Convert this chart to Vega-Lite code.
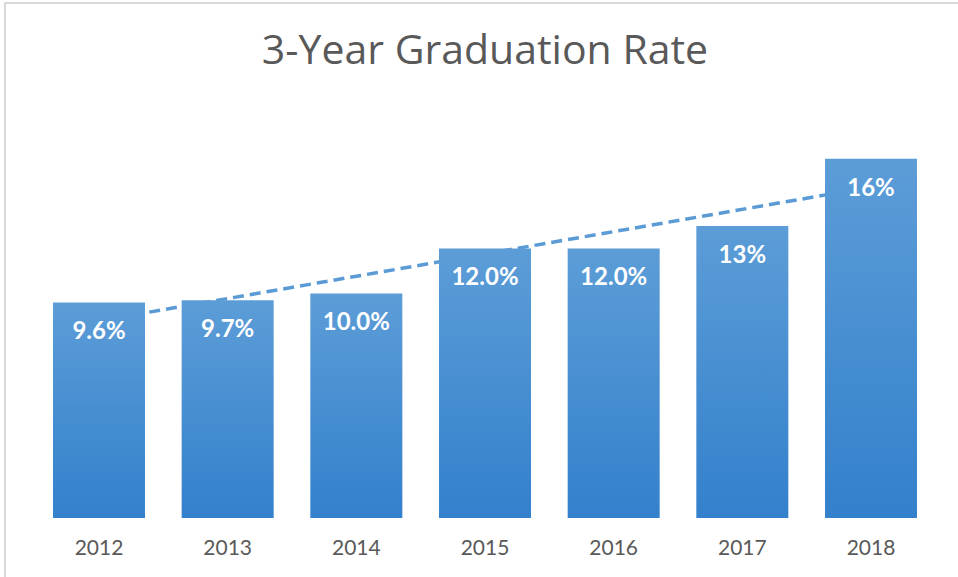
{
  "$schema": "https://vega.github.io/schema/vega-lite/v6.json",
  "width": 960,
  "height": 580,
  "autosize": {"type": "none"},
  "padding": {"left": 5, "top": 3, "right": -7, "bottom": -6},
  "background": "white",
  "config": {"view": {"stroke": "#d9d9d9", "strokeWidth": 2}},
  "title": {
    "text": "3-Year Graduation Rate",
    "font": "Open Sans",
    "fontSize": 41,
    "fontWeight": "normal",
    "color": "#595959",
    "anchor": "middle",
    "frame": "group",
    "baseline": "middle",
    "offset": -50,
    "dy": 40
  },
  "data": {
    "values": [
      {"year": 2012, "value": 9.6, "label": "9.6%"},
      {"year": 2013, "value": 9.7, "label": "9.7%"},
      {"year": 2014, "value": 10.0, "label": "10.0%"},
      {"year": 2015, "value": 12.0, "label": "12.0%"},
      {"year": 2016, "value": 12.0, "label": "12.0%"},
      {"year": 2017, "value": 13.0, "label": "13%"},
      {"year": 2018, "value": 16.0, "label": "16%"}
    ]
  },
  "resolve": {"scale": {"x": "independent"}},
  "layer": [
    {
      "transform": [{"regression": "value", "on": "year", "method": "linear"}],
      "mark": {"type": "line", "color": "#5b9bd5", "strokeWidth": 3.5, "strokeDash": [11, 6]},
      "encoding": {
        "x": {"field": "year", "type": "quantitative", "scale": {"domain": [2011.2694, 2018.7306], "nice": false, "zero": false}, "axis": null},
        "y": {"field": "value", "type": "quantitative", "scale": {"domain": [-2.894, 22.93], "nice": false, "zero": false}, "axis": null}
      }
    },
    {
      "encoding": {
        "x": {
          "field": "year",
          "type": "ordinal",
          "scale": {"paddingInner": 0.285, "paddingOuter": 0.373},
          "axis": {
            "orient": "bottom",
            "offset": -35,
            "domain": false,
            "ticks": false,
            "labelPadding": 0,
            "labelBaseline": "middle",
            "labelAngle": 0,
            "labelFont": "Lato",
            "labelFontSize": 21,
            "labelColor": "#595959",
            "title": null
          }
        },
        "y": {"field": "value", "type": "quantitative", "scale": {"domain": [-2.894, 22.93], "nice": false, "zero": false}, "axis": null}
      },
      "layer": [
        {
          "mark": {
            "type": "bar",
            "color": {
              "gradient": "linear",
              "x1": 0, "y1": 0, "x2": 0, "y2": 1,
              "stops": [
                {"offset": 0, "color": "#5c9dd7"},
                {"offset": 1, "color": "#3380cc"}
              ]
            }
          }
        },
        {
          "mark": {"type": "text", "color": "white", "font": "Lato", "fontWeight": "bold", "fontSize": 24, "baseline": "middle", "dy": 30},
          "encoding": {"text": {"field": "label"}}
        }
      ]
    }
  ]
}
